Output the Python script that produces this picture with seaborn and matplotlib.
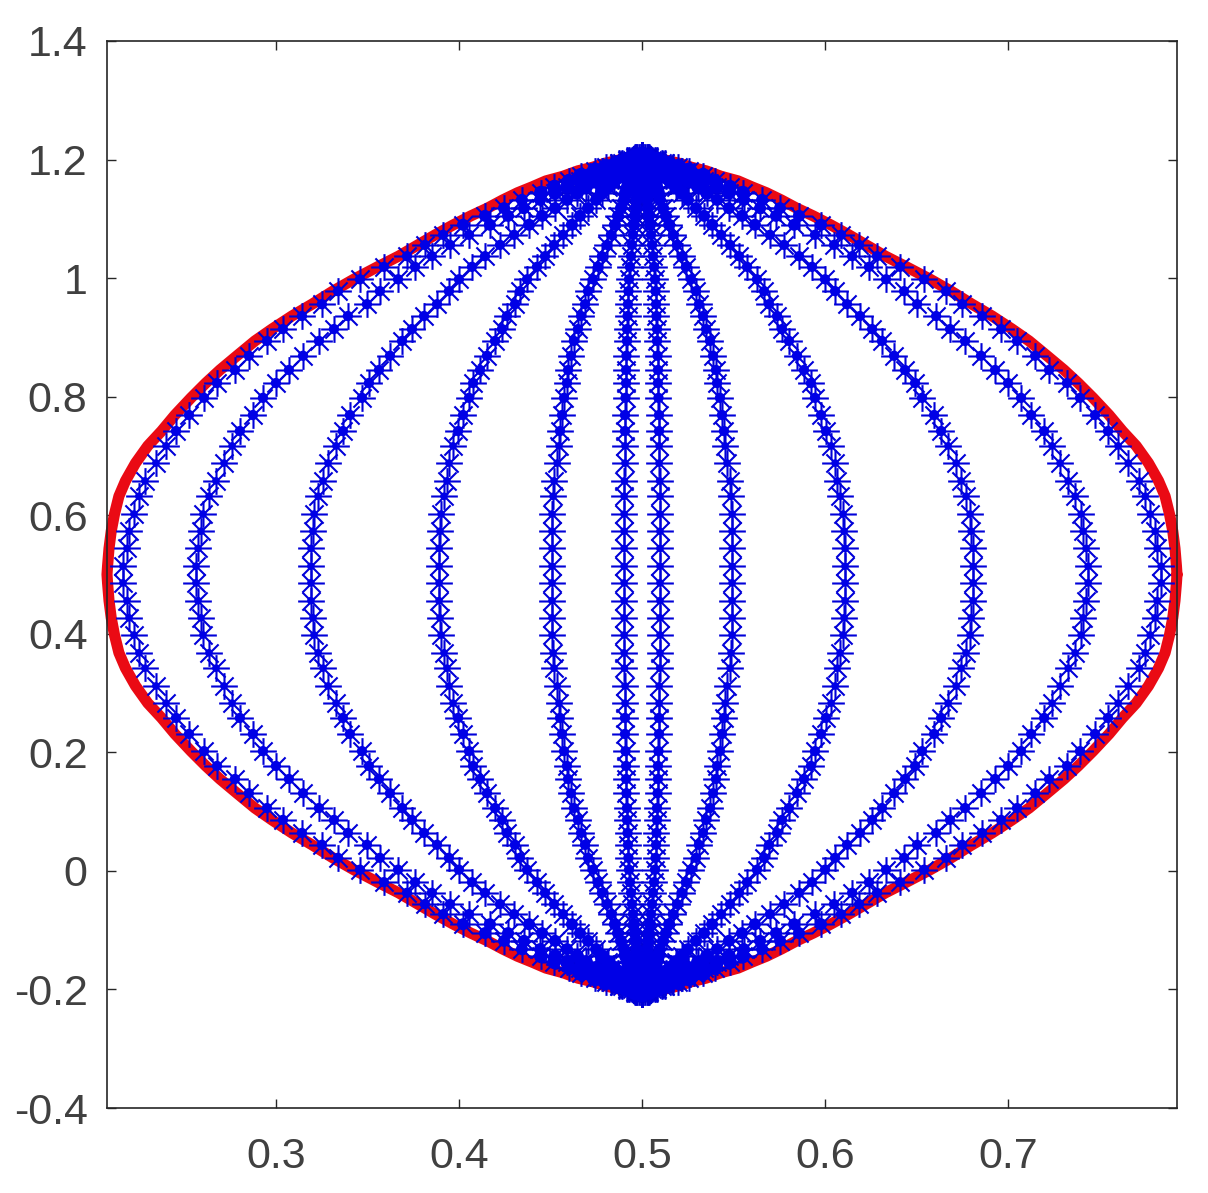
import numpy as np
import pandas as pd
import matplotlib
matplotlib.use('Agg')
import matplotlib.pyplot as plt
from matplotlib.path import Path
import seaborn as sns

sns.set_style('white')
plt.rcParams['font.family'] = ['Liberation Sans', 'DejaVu Sans']
plt.rcParams['axes.unicode_minus'] = False

# marker heights above the middle line, the lower half mirrors them around y=0.5
levels = [0.514, 0.544, 0.573, 0.602, 0.632, 0.658, 0.688, 0.717, 0.742, 0.769,
          0.798, 0.823, 0.845, 0.869, 0.894, 0.914, 0.936, 0.956, 0.978, 0.998,
          1.019, 1.037, 1.056, 1.073, 1.090, 1.105, 1.118, 1.132, 1.144, 1.154,
          1.164, 1.172, 1.181, 1.187, 1.194, 1.199, 1.204, 1.207]

# half widths of each blue curve (distance from x=0.5) at those heights
curve1 = [.2836, .2814, .2803, .2776, .2749, .2716, .2656, .2601, .2546, .2475,
          .2393, .2322, .2224, .2148, .2049, .1962, .1858, .1749, .1661, .1541,
          .1410, .1284, .1186, .1087, .0978, .0858, .0754, .0656, .0552, .0481,
          .0399, .0333, .0257, .0197, .0126, .0082, .0038, 0]
curve2 = [.2437, .2426, .2410, .2399, .2366, .2328, .2284, .2240, .2197, .2126,
          .2071, .2000, .1929, .1852, .1765, .1683, .1607, .1503, .1432, .1333,
          .1240, .1148, .1049, .0945, .0831, .0732, .0645, .0557, .0475, .0410,
          .0339, .0284, .0219, .0169, .0109, .0071, .0033, 0]
curve3 = [.1809, .1809, .1798, .1792, .1770, .1743, .1716, .1672, .1634, .1596,
          .1530, .1492, .1437, .1377, .1311, .1257, .1191, .1120, .1055, .1000,
          .0929, .0858, .0776, .0699, .0617, .0546, .0475, .0410, .0355, .0306,
          .0251, .0213, .0164, .0126, .0082, .0055, .0027, 0]
curve4 = [.1109, .1109, .1104, .1098, .1082, .1066, .1055, .1033, .1005, .0978,
          .0945, .0923, .0885, .0847, .0803, .0765, .0738, .0694, .0667, .0628,
          .0574, .0530, .0481, .0432, .0383, .0339, .0295, .0251, .0219, .0186,
          .0153, .0131, .0104, .0077, .0049, .0033, .0016, 0]
curve5 = [.0492, .0492, .0492, .0492, .0486, .0481, .0464, .0454, .0448, .0437,
          .0426, .0410, .0404, .0388, .0372, .0350, .0333, .0311, .0295, .0268,
          .0240, .0219, .0191, .0169, .0148, .0131, .0115, .0098, .0087, .0077,
          .0066, .0055, .0044, .0033, .0022, .0016, .0008, 0]
curve6 = [.0098, .0098, .0098, .0098, .0098, .0096, .0093, .0093, .0093, .0093,
          .0090, .0087, .0087, .0085, .0082, .0082, .0079, .0077, .0074, .0071,
          .0066, .0060, .0055, .0049, .0044, .0038, .0033, .0030, .0027, .0025,
          .0022, .0019, .0016, .0014, .0011, .0005, .0003, 0]

# red outline
red_levels = [0.5] + levels
red_width = [.2923, .2920, .2912, .2900, .2882, .2858, .2822, .2767, .2700, .2625,
             .2552, .2464, .2383, .2306, .2213, .2115, .2022, .1913, .1803, .1689,
             .1575, .1445, .1330, .1225, .1130, .1030, .0935, .0845, .0760, .0680,
             .0600, .0525, .0430, .0350, .0270, .0200, .0130, .0060, 0]

xticks = [0.3, 0.4, 0.5, 0.6, 0.7]
xtick_labels = ['0.3', '0.4', '0.5', '0.6', '0.7']
yticks = [-0.4, -0.2, 0, 0.2, 0.4, 0.6, 0.8, 1, 1.2, 1.4]
ytick_labels = ['-0.4', '-0.2', '0', '0.2', '0.4', '0.6', '0.8', '1', '1.2', '1.4']

W, H = 1208, 1193
fig = plt.figure(figsize=(W / 100, H / 100), dpi=100)
ax = fig.add_axes([107 / W, (H - 1108) / H, 1070 / W, 1067 / H])

# outline goes once around: right side upwards, left side downwards, back again
lv = np.array(red_levels)
rw = np.array(red_width)
outline = pd.DataFrame({
    'x': np.concatenate([0.5 + rw, (0.5 - rw)[::-1], 0.5 - rw, (0.5 + rw)[::-1]]),
    'y': np.concatenate([lv, lv[::-1], 1 - lv, (1 - lv)[::-1]]),
})
sns.lineplot(data=outline, x='x', y='y', sort=False, estimator=None, ax=ax,
             color='#ea0a14', linewidth=8, clip_on=False, zorder=2,
             solid_joinstyle='round')

frames = []
lv = np.array(levels)
for c in [curve1, curve2, curve3, curve4, curve5, curve6]:
    w = np.array(c)
    for sx in (-1, 1):
        frames.append(pd.DataFrame({'x': 0.5 + sx * w, 'y': lv, 'idx': range(len(lv))}))
        frames.append(pd.DataFrame({'x': 0.5 + sx * w, 'y': 1 - lv, 'idx': range(len(lv))}))
points = pd.concat(frames, ignore_index=True)

# matlab style star, the diagonals are shorter than the bars
d = 0.68
star = Path([(-1, 0), (1, 0), (0, -1), (0, 1), (-d, -d), (d, d), (-d, d), (d, -d)],
            [Path.MOVETO, Path.LINETO] * 4)
sns.scatterplot(data=points, x='x', y='y', ax=ax, marker=star, s=370,
                color='#0000e6', edgecolor='#0000d8', linewidth=1.5,
                clip_on=False, zorder=3)
# the stars clot into a thick core in the original, more so towards the tips
for lo, hi, size in [(0, 8, 30), (8, 24, 55), (24, 28, 75), (28, 31, 100), (31, 38, 140)]:
    part = points[(points['idx'] >= lo) & (points['idx'] < hi)]
    sns.scatterplot(data=part, x='x', y='y', ax=ax, marker='o', s=size,
                    color='#0000e6', edgecolor='none', clip_on=False, zorder=3)

ax.set_xlim(0.2077, 0.7923)
ax.set_ylim(-0.4, 1.4)
ax.set_xlabel('')
ax.set_ylabel('')
ax.set_xticks(xticks)
ax.set_xticklabels(xtick_labels)
ax.set_yticks(yticks)
ax.set_yticklabels(ytick_labels)
ax.tick_params(axis='both', direction='in', length=6.5, width=1, color='#262626',
               top=True, right=True, bottom=True, left=True,
               labelsize=31, labelcolor='#404040')
ax.tick_params(axis='x', pad=21)
ax.tick_params(axis='y', pad=14)
for s in ax.spines.values():
    s.set_visible(True)
    s.set_color('#262626')
    s.set_linewidth(1.2)

fig.savefig('out.png', dpi=100)
